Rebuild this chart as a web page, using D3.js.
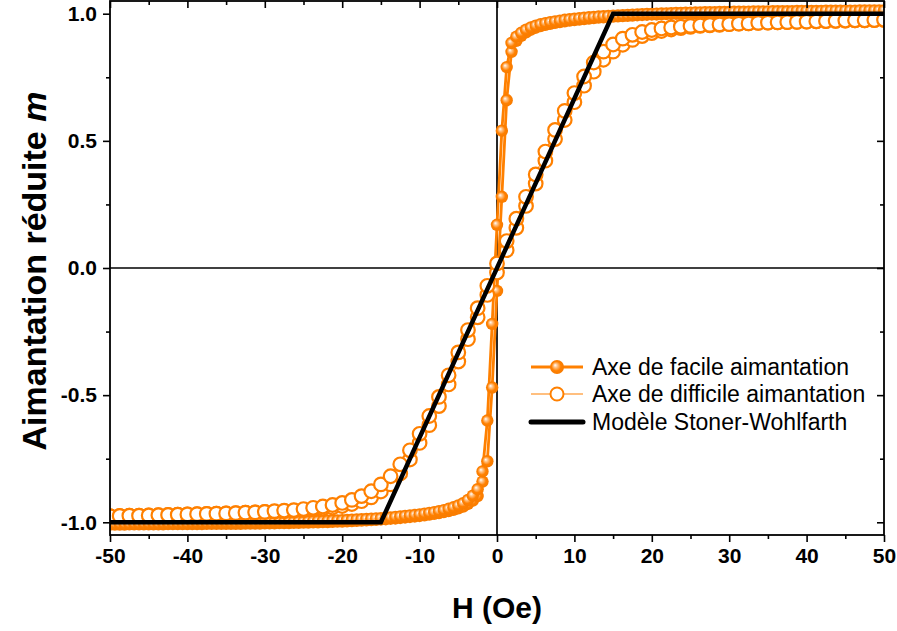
<!DOCTYPE html>
<html>
<head>
<meta charset="utf-8">
<script src="https://cdn.jsdelivr.net/npm/d3@7"></script>
<style>
  html, body { margin: 0; padding: 0; background: #fff; }
  svg { display: block; }
  text { font-family: "Liberation Sans", Arial, sans-serif; }
</style>
</head>
<body>
<svg id="chart" width="897" height="631"></svg>
<script>
// Field grid of the easy-axis measurement (Oe)
const easyH = [
  -50,-49.375,-48.75,-48.125,-47.5,-46.875,-46.25,-45.625,
  -45,-44.375,-43.75,-43.125,-42.5,-41.875,-41.25,-40.625,
  -40,-39.375,-38.75,-38.125,-37.5,-36.875,-36.25,-35.625,
  -35,-34.375,-33.75,-33.125,-32.5,-31.875,-31.25,-30.625,
  -30,-29.375,-28.75,-28.125,-27.5,-26.875,-26.25,-25.625,
  -25,-24.375,-23.75,-23.125,-22.5,-21.875,-21.25,-20.625,
  -20,-19.375,-18.75,-18.125,-17.5,-16.875,-16.25,-15.625,
  -15,-14.375,-13.75,-13.125,-12.5,-11.875,-11.25,-10.625,
  -10,-9.375,-8.75,-8.125,-7.5,-6.875,-6.25,-5.625,
  -5,-4.375,-3.75,-3.125,-2.5,-1.875,-1.25,-0.625,
  0,
  0.625,1.25,1.875,2.5,3.125,3.75,4.375,5,
  5.625,6.25,6.875,7.5,8.125,8.75,9.375,10,
  10.625,11.25,11.875,12.5,13.125,13.75,14.375,15,
  15.625,16.25,16.875,17.5,18.125,18.75,19.375,20,
  20.625,21.25,21.875,22.5,23.125,23.75,24.375,25,
  25.625,26.25,26.875,27.5,28.125,28.75,29.375,30,
  30.625,31.25,31.875,32.5,33.125,33.75,34.375,35,
  35.625,36.25,36.875,37.5,38.125,38.75,39.375,40,
  40.625,41.25,41.875,42.5,43.125,43.75,44.375,45,
  45.625,46.25,46.875,47.5,48.125,48.75,49.375,50
];
// Easy axis, increasing field sweep
const easyUp = [
  -1.009,-1.009,-1.009,-1.009,-1.008,-1.008,-1.008,-1.008,
  -1.008,-1.008,-1.008,-1.008,-1.007,-1.007,-1.007,-1.007,
  -1.007,-1.007,-1.007,-1.007,-1.006,-1.006,-1.006,-1.006,
  -1.006,-1.006,-1.006,-1.006,-1.005,-1.005,-1.005,-1.005,
  -1.004,-1.004,-1.004,-1.003,-1.003,-1.003,-1.002,-1.002,
  -1.001,-1.001,-1.000,-1.000,-0.999,-0.999,-0.998,-0.997,
  -0.997,-0.996,-0.995,-0.994,-0.993,-0.992,-0.991,-0.990,
  -0.989,-0.988,-0.986,-0.985,-0.983,-0.981,-0.979,-0.977,
  -0.975,-0.973,-0.970,-0.967,-0.964,-0.960,-0.956,-0.951,
  -0.945,-0.938,-0.928,-0.915,-0.897,-0.840,-0.760,-0.470,
  -0.090,
  0.280,0.660,0.850,0.893,0.913,0.927,0.937,0.945,
  0.951,0.956,0.960,0.964,0.967,0.970,0.973,0.975,
  0.977,0.979,0.981,0.983,0.985,0.986,0.988,0.989,
  0.990,0.991,0.992,0.993,0.994,0.995,0.996,0.997,
  0.997,0.998,0.999,0.999,1.000,1.000,1.001,1.001,
  1.002,1.002,1.003,1.003,1.003,1.004,1.004,1.004,
  1.005,1.005,1.005,1.005,1.006,1.006,1.006,1.006,
  1.006,1.006,1.006,1.006,1.007,1.007,1.007,1.007,
  1.007,1.007,1.007,1.007,1.008,1.008,1.008,1.008,
  1.008,1.008,1.008,1.008,1.009,1.009,1.009,1.009
];
// Easy axis, decreasing field sweep (same field grid)
const easyDown = [
  -1.006,-1.006,-1.006,-1.006,-1.006,-1.005,-1.005,-1.005,
  -1.005,-1.005,-1.005,-1.004,-1.004,-1.004,-1.004,-1.004,
  -1.004,-1.003,-1.003,-1.003,-1.003,-1.003,-1.002,-1.002,
  -1.002,-1.002,-1.002,-1.001,-1.001,-1.001,-1.001,-1.000,
  -1.000,-1.000,-0.999,-0.999,-0.999,-0.998,-0.998,-0.997,
  -0.997,-0.996,-0.996,-0.995,-0.995,-0.994,-0.993,-0.993,
  -0.992,-0.991,-0.990,-0.989,-0.988,-0.987,-0.986,-0.985,
  -0.984,-0.982,-0.981,-0.979,-0.977,-0.975,-0.973,-0.971,
  -0.969,-0.966,-0.963,-0.960,-0.956,-0.952,-0.947,-0.941,
  -0.934,-0.925,-0.912,-0.895,-0.870,-0.800,-0.600,-0.220,
  0.170,
  0.540,0.790,0.885,0.910,0.925,0.937,0.946,0.953,
  0.959,0.963,0.967,0.970,0.973,0.976,0.978,0.980,
  0.982,0.984,0.986,0.987,0.989,0.990,0.991,0.992,
  0.993,0.994,0.995,0.996,0.997,0.998,0.999,0.999,
  1.000,1.001,1.001,1.002,1.003,1.003,1.004,1.004,
  1.005,1.005,1.006,1.006,1.006,1.007,1.007,1.007,
  1.008,1.008,1.008,1.008,1.009,1.009,1.009,1.009,
  1.010,1.010,1.010,1.010,1.010,1.011,1.011,1.011,
  1.011,1.011,1.011,1.012,1.012,1.012,1.012,1.012,
  1.012,1.012,1.013,1.013,1.013,1.013,1.013,1.013
];

// Field grid of the hard-axis measurement (Oe)
const hardH = [
  -50,-48.75,-47.5,-46.25,-45,-43.75,-42.5,-41.25,
  -40,-38.75,-37.5,-36.25,-35,-33.75,-32.5,-31.25,
  -30,-28.75,-27.5,-26.25,-25,-23.75,-22.5,-21.25,
  -20,-18.75,-17.5,-16.25,-15,-13.75,-12.5,-11.25,
  -10,-8.75,-7.5,-6.25,-5,-3.75,-2.5,-1.25,
  0,
  1.25,2.5,3.75,5,6.25,7.5,8.75,10,
  11.25,12.5,13.75,15,16.25,17.5,18.75,20,
  21.25,22.5,23.75,25,26.25,27.5,28.75,30,
  31.25,32.5,33.75,35,36.25,37.5,38.75,40,
  41.25,42.5,43.75,45,46.25,47.5,48.75,50
];
// Hard axis, increasing field sweep
const hardUp = [
  -0.976,-0.975,-0.974,-0.974,-0.973,-0.972,-0.971,-0.970,
  -0.969,-0.968,-0.967,-0.966,-0.965,-0.964,-0.962,-0.961,
  -0.959,-0.958,-0.956,-0.954,-0.952,-0.949,-0.946,-0.942,
  -0.936,-0.928,-0.917,-0.902,-0.879,-0.851,-0.808,-0.753,
  -0.688,-0.618,-0.543,-0.458,-0.368,-0.280,-0.194,-0.106,
  -0.018,
  0.070,0.158,0.244,0.332,0.422,0.507,0.582,0.652,
  0.717,0.772,0.819,0.851,0.878,0.897,0.912,0.924,
  0.932,0.938,0.943,0.948,0.952,0.954,0.956,0.959,
  0.961,0.962,0.964,0.965,0.966,0.967,0.968,0.969,
  0.970,0.971,0.972,0.973,0.974,0.974,0.975,0.976
];
// Hard axis, decreasing field sweep
const hardDown = [
  -0.976,-0.975,-0.974,-0.974,-0.973,-0.972,-0.971,-0.970,
  -0.969,-0.968,-0.967,-0.966,-0.965,-0.964,-0.962,-0.961,
  -0.959,-0.956,-0.954,-0.952,-0.948,-0.943,-0.938,-0.932,
  -0.924,-0.912,-0.897,-0.878,-0.851,-0.819,-0.772,-0.717,
  -0.652,-0.582,-0.507,-0.422,-0.332,-0.244,-0.158,-0.070,
  0.018,
  0.106,0.194,0.280,0.368,0.458,0.543,0.618,0.688,
  0.753,0.808,0.851,0.879,0.902,0.917,0.928,0.936,
  0.942,0.946,0.949,0.952,0.954,0.956,0.958,0.959,
  0.961,0.962,0.964,0.965,0.966,0.967,0.968,0.969,
  0.970,0.971,0.972,0.973,0.974,0.974,0.975,0.976
];

// Stoner-Wohlfarth model, anisotropy field 15 Oe
const swH = [-50, -15, 15, 50];
const swM = [-1, -1, 1, 1];

// Axis ticks
const xTicks = [-50, -40, -30, -20, -10, 0, 10, 20, 30, 40, 50];
const xMinor = [-45, -35, -25, -15, -5, 5, 15, 25, 35, 45];
const yTicks = [-1, -0.5, 0, 0.5, 1];
const yMinor = [-0.75, -0.25, 0.25, 0.75];

const legendLabels = ["Axe de facile aimantation", "Axe de difficile aimantation", "Modèle Stoner-Wohlfarth"];

const ORANGE = "#ff8000";
const svg = d3.select("#chart");
const L = 110, R = 884, T = 1, B = 535;

const x = d3.scaleLinear().domain([-50, 50]).range([L, R]);
const y = d3.scaleLinear().domain([-1.05, 1.05]).range([B, T]);

// Shaded ball marker
const defs = svg.append("defs");
const grad = defs.append("radialGradient").attr("id", "ball")
  .attr("cx", "0.5").attr("cy", "0.5").attr("r", "0.55")
  .attr("fx", "0.36").attr("fy", "0.36");
grad.append("stop").attr("offset", "0").attr("stop-color", "#ffffff");
grad.append("stop").attr("offset", "0.25").attr("stop-color", "#ffc48a");
grad.append("stop").attr("offset", "0.6").attr("stop-color", "#ff8000");
grad.append("stop").attr("offset", "1").attr("stop-color", "#f57a00");

defs.append("clipPath").attr("id", "plotclip")
  .append("rect").attr("x", L).attr("y", T).attr("width", R - L).attr("height", B - T);

// Zero lines
svg.append("line").attr("x1", L).attr("x2", R).attr("y1", y(0)).attr("y2", y(0))
  .attr("stroke", "#000").attr("stroke-width", 1.7);
svg.append("line").attr("x1", x(0)).attr("x2", x(0)).attr("y1", T).attr("y2", B)
  .attr("stroke", "#000").attr("stroke-width", 1.7);

const plot = svg.append("g").attr("clip-path", "url(#plotclip)");
const line = d3.line().x(d => x(d[0])).y(d => y(d[1]));

const easySweeps = [easyUp, easyDown].map(ms => easyH.map((h, i) => [h, ms[i]]));
const hardSweeps = [hardUp, hardDown].map(ms => hardH.map((h, i) => [h, ms[i]]));

// Easy axis: shaded filled circles joined by a thick line
easySweeps.forEach(pts => {
  plot.append("path").datum(pts).attr("d", line)
    .attr("fill", "none").attr("stroke", ORANGE).attr("stroke-width", 2.8);
});
easySweeps.forEach(pts => {
  plot.append("g").selectAll("circle").data(pts).join("circle")
    .attr("cx", d => x(d[0])).attr("cy", d => y(d[1])).attr("r", 6.2)
    .attr("fill", "url(#ball)");
});

// Hard axis: open circles joined by a thin line
hardSweeps.forEach(pts => {
  plot.append("path").datum(pts).attr("d", line)
    .attr("fill", "none").attr("stroke", ORANGE).attr("stroke-width", 1);
});
hardSweeps.forEach(pts => {
  plot.append("g").selectAll("circle").data(pts).join("circle")
    .attr("cx", d => x(d[0])).attr("cy", d => y(d[1])).attr("r", 6.8)
    .attr("fill", "#fff").attr("stroke", ORANGE).attr("stroke-width", 2.2);
});

// Stoner-Wohlfarth model
plot.append("path").datum(swH.map((h, i) => [h, swM[i]])).attr("d", line)
  .attr("fill", "none").attr("stroke", "#000").attr("stroke-width", 4.5)
  .attr("stroke-linejoin", "miter");

// Frame
svg.append("rect").attr("x", L).attr("y", T).attr("width", R - L).attr("height", B - T)
  .attr("fill", "none").attr("stroke", "#000").attr("stroke-width", 1.8);

function styleAxis(g) {
  g.select(".domain").remove();
  g.selectAll(".tick line").attr("stroke", "#000").attr("stroke-width", 1.6);
  g.selectAll("text").attr("font-size", 21).attr("font-weight", "bold")
    .attr("fill", "#000").attr("font-family", '"Liberation Sans", Arial, sans-serif');
}

// Bottom axis (ticks outward)
svg.append("g").attr("transform", `translate(0,${B})`)
  .call(d3.axisBottom(x).tickValues(xTicks).tickSize(7).tickPadding(6).tickFormat(d => String(d)))
  .call(styleAxis);
svg.append("g").attr("transform", `translate(0,${B})`)
  .call(d3.axisBottom(x).tickValues(xMinor).tickSize(4).tickFormat(""))
  .call(styleAxis);
// Top axis (ticks inward)
svg.append("g").attr("transform", `translate(0,${T})`)
  .call(d3.axisTop(x).tickValues(xTicks).tickSize(-7).tickFormat(""))
  .call(styleAxis);
svg.append("g").attr("transform", `translate(0,${T})`)
  .call(d3.axisTop(x).tickValues(xMinor).tickSize(-4).tickFormat(""))
  .call(styleAxis);
// Left axis (ticks outward)
svg.append("g").attr("transform", `translate(${L},0)`)
  .call(d3.axisLeft(y).tickValues(yTicks).tickSize(7).tickPadding(6).tickFormat(d => d.toFixed(1)))
  .call(styleAxis);
svg.append("g").attr("transform", `translate(${L},0)`)
  .call(d3.axisLeft(y).tickValues(yMinor).tickSize(4).tickFormat(""))
  .call(styleAxis);
// Right axis (ticks inward)
svg.append("g").attr("transform", `translate(${R},0)`)
  .call(d3.axisRight(y).tickValues(yTicks).tickSize(-7).tickFormat(""))
  .call(styleAxis);
svg.append("g").attr("transform", `translate(${R},0)`)
  .call(d3.axisRight(y).tickValues(yMinor).tickSize(-4).tickFormat(""))
  .call(styleAxis);

// Axis titles
svg.append("text").attr("x", (L + R) / 2).attr("y", 618)
  .attr("text-anchor", "middle").attr("font-size", 30).attr("font-weight", "bold")
  .text("H (Oe)");
const yt = svg.append("text")
  .attr("transform", `translate(46,${(T + B) / 2 + 3}) rotate(-90)`)
  .attr("text-anchor", "middle").attr("font-size", 34).attr("font-weight", "bold");
yt.append("tspan").text("Aimantation réduite ");
yt.append("tspan").attr("font-style", "italic").text("m");

// Legend
const lg = svg.append("g");
const rowsY = [367, 394, 422];
const lx1 = 531, lx2 = 583, lxm = 557, tx = 592;
lg.append("line").attr("x1", lx1).attr("x2", lx2).attr("y1", rowsY[0]).attr("y2", rowsY[0])
  .attr("stroke", ORANGE).attr("stroke-width", 3);
lg.append("circle").attr("cx", lxm).attr("cy", rowsY[0]).attr("r", 7).attr("fill", "url(#ball)");
lg.append("line").attr("x1", lx1).attr("x2", lx2).attr("y1", rowsY[1]).attr("y2", rowsY[1])
  .attr("stroke", ORANGE).attr("stroke-width", 1.2);
lg.append("circle").attr("cx", lxm).attr("cy", rowsY[1]).attr("r", 6.5)
  .attr("fill", "#fff").attr("stroke", ORANGE).attr("stroke-width", 2);
lg.append("line").attr("x1", lx1).attr("x2", lx2).attr("y1", rowsY[2]).attr("y2", rowsY[2])
  .attr("stroke", "#000").attr("stroke-width", 5).attr("stroke-linecap", "round");
lg.selectAll("text.lbl").data(legendLabels).join("text").attr("class", "lbl")
  .attr("x", tx).attr("y", (d, i) => rowsY[i]).attr("dy", "0.35em")
  .attr("font-size", 23).attr("fill", "#000").text(d => d);
</script>
</body>
</html>
